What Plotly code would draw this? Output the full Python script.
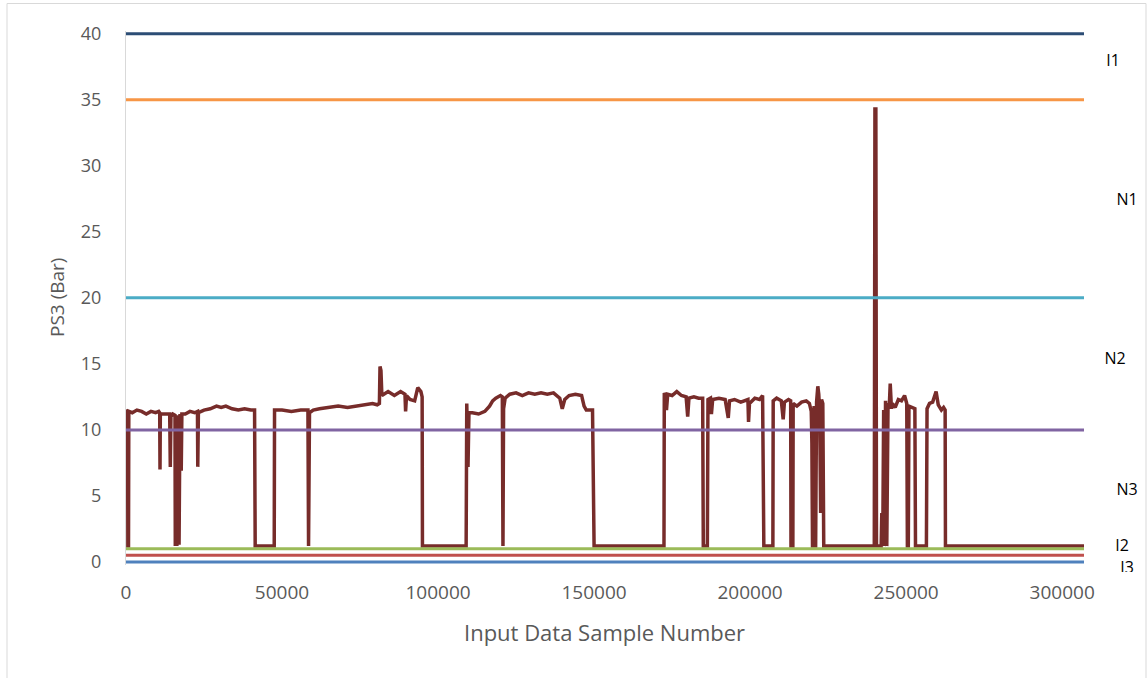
import plotly.graph_objects as go

# PS3 pressure readings, breakpoints of the recorded trace
sample_x = [
    0, 500, 600, 800, 900, 2000, 3500, 5000, 6500, 8000, 9500, 10500,
    10800, 10900, 11000, 12500, 14000, 14200, 14400, 15000,
    15700, 15800, 16000, 16300, 16600, 17000, 17300, 17700, 17900,
    19000, 20500, 22000, 22900, 23000, 23200,
    25000, 27000, 29000, 30500, 32000, 34000, 36000, 38000, 40000, 41200,
    41400, 47500, 47600, 50000, 53000, 56000, 58300, 58500, 58800,
    60000, 62000, 65000, 68000, 71000, 74000, 77000, 79000, 80500,
    81200, 81400, 81700, 82000, 84000, 86000, 88000, 89400, 89600, 89900,
    91000, 92500, 93500, 94500, 94900, 95000, 109000,
    109200, 109600, 109900, 111000, 113000, 115000, 116500, 117500, 118500,
    120000, 120600, 120700, 120800, 121000, 121500,
    123000, 125000, 127000, 129000, 131000, 133000, 135000, 137000, 139000,
    139800, 140600, 142000, 144000, 146000, 146800, 147500, 149500, 150000,
    172400, 172500, 172800, 173200, 173600, 175000, 176500, 178000, 179500,
    180000, 180400, 182000, 183500, 184800, 185000, 186300, 186500,
    187300, 187600, 188000, 190000, 192000, 193000, 193400, 195000, 197000,
    199300, 199500, 199800, 201500, 203000, 204000, 204400, 207300, 207400,
    208500, 210000, 210600, 211000, 212300, 213000, 213100, 213700, 213800,
    215000, 216500, 218000, 219000, 219600, 219800, 220000, 220300, 220500,
    220700, 221000, 221300, 221700, 222000, 222300, 222600, 222900, 223300,
    223600, 239800, 240000, 240300, 240500, 242000, 242200, 242500, 242800,
    243100, 243400, 243800, 244200, 244600, 244900, 245300, 245600, 246500,
    247500, 248500, 249500, 250200, 250400, 250700, 250900, 252000, 252800,
    253000, 256500, 256700, 257500, 258500, 259600, 260300, 261300, 262000,
    262500, 262600, 307000,
]
ps3_bar = [
    11.3, 11.5, 1.2, 1.2, 11.4, 11.3, 11.5, 11.4, 11.2, 11.4, 11.3, 11.4,
    11.3, 7.0, 11.2, 11.2, 11.2, 7.2, 11.0, 11.2,
    11.1, 1.2, 11.0, 1.2, 11.1, 1.3, 11.2, 6.9, 11.2,
    11.2, 11.4, 11.3, 11.4, 7.2, 11.3,
    11.5, 11.6, 11.8, 11.7, 11.8, 11.6, 11.5, 11.6, 11.5, 11.5,
    1.2, 1.2, 11.5, 11.5, 11.4, 11.5, 11.5, 1.2, 11.3,
    11.5, 11.6, 11.7, 11.8, 11.7, 11.8, 11.9, 12.0, 11.9,
    12.0, 14.8, 14.5, 12.6, 12.9, 12.6, 12.9, 12.7, 11.4, 12.6,
    12.3, 12.2, 13.2, 12.9, 12.5, 1.2, 1.2,
    12.0, 7.2, 11.3, 11.3, 11.2, 11.4, 11.8, 12.2, 12.4,
    12.6, 12.5, 1.2, 1.2, 11.6, 12.4,
    12.7, 12.8, 12.6, 12.8, 12.7, 12.8, 12.7, 12.8, 12.4,
    11.6, 12.3, 12.6, 12.7, 12.6, 11.8, 11.5, 11.5, 1.2,
    1.2, 12.8, 12.6, 11.5, 12.7, 12.6, 12.9, 12.6, 12.5,
    11.0, 12.4, 12.5, 12.4, 12.4, 1.2, 1.2, 12.3,
    12.4, 11.2, 12.3, 12.4, 12.3, 10.9, 12.2, 12.3, 12.1,
    12.3, 10.6, 12.0, 12.4, 12.3, 12.6, 1.2, 1.2, 12.2,
    12.4, 12.2, 10.8, 12.1, 12.3, 12.2, 1.2, 1.2, 12.0,
    11.8, 12.1, 12.2, 12.0, 11.4, 9.0, 1.2, 1.2, 11.8,
    1.2, 1.2, 12.1, 13.3, 12.7, 11.4, 3.7, 12.3, 12.0,
    1.2, 1.2, 34.3, 34.3, 1.2, 1.2, 3.7, 1.2, 11.5,
    1.2, 12.2, 1.2, 12.0, 11.8, 13.5, 11.6, 12.0, 11.7,
    12.3, 12.2, 12.6, 12.0, 1.2, 1.2, 11.8, 11.7, 11.6,
    1.2, 1.2, 11.6, 12.0, 12.1, 12.9, 11.9, 11.5, 11.7,
    11.5, 1.2, 1.2,
]

# Limit lines separating the operating zones
limit_levels = [40, 35, 20, 10, 1.0, 0.5, 0]
limit_colors = ["#2C4D75", "#F79646", "#4BACC6", "#8064A2",
                "#9BBB59", "#C0504D", "#4F81BD"]

zone_labels = ["I1", "N1", "N2", "N3", "I2", "I3"]

x_ticks = [0, 50000, 100000, 150000, 200000, 250000, 300000]
y_ticks = [0, 5, 10, 15, 20, 25, 30, 35, 40]

# ---- page geometry (pixels) ----
W, H = 1147, 678
ML, MR, MT, MB = 126, 5, 31, 78
PW, PH = W - ML - MR, H - MT - MB
plot_right = 1084          # right edge of the data area
plot_bottom = 564.6        # bottom edge of the data area
label_clip = 572           # zone labels are cut off below this line


def fx(px):
    return (px - ML) / PW


def fy(py):
    return (H - MB - py) / PH


x_max = sample_x[-1]

fig = go.Figure()

fig.add_trace(go.Scatter(
    x=sample_x, y=ps3_bar, mode="lines",
    line=dict(color="#772C2A", width=3.5),
    showlegend=False, hoverinfo="skip",
))

for level, color in zip(limit_levels, limit_colors):
    fig.add_trace(go.Scatter(
        x=[sample_x[0], x_max], y=[level, level], mode="lines",
        line=dict(color=color, width=3),
        showlegend=False, hoverinfo="skip",
    ))

# zone names sit in a narrow strip to the right of the data area
label_px_x = [1113, 1127, 1115, 1127, 1122, 1127]
label_px_y = [62, 201, 360, 491, 547, 569]
fig.add_trace(go.Scatter(
    x=label_px_x, y=label_px_y, text=zone_labels, mode="text",
    textposition="middle center", cliponaxis=True,
    textfont=dict(family="Open Sans", size=16, color="#000000"),
    xaxis="x2", yaxis="y2", showlegend=False, hoverinfo="skip",
))

axis_font = dict(family="Liberation Sans Narrow, Open Sans", size=19, color="#595959")

fig.update_layout(
    template="none",
    width=W, height=H,
    margin=dict(l=ML, r=MR, t=MT, b=MB, pad=0, autoexpand=False),
    paper_bgcolor="white", plot_bgcolor="white",
    xaxis=dict(
        domain=[0, fx(plot_right)], range=[0, x_max], automargin=False,
        tickvals=x_ticks, ticktext=[str(v) for v in x_ticks],
        tickfont=axis_font, showgrid=False, zeroline=False, showline=False,
        ticks="", ticklabelstandoff=14,
    ),
    yaxis=dict(
        domain=[fy(plot_bottom), 1], range=[-0.2, 40.2], automargin=False,
        tickvals=y_ticks, ticktext=[str(v) for v in y_ticks],
        tickfont=dict(family="Open Sans", size=18, color="#595959"),
        showgrid=False, zeroline=False, showline=True,
        linecolor="#D9D9D9", linewidth=1, ticks="", ticklabelstandoff=20,
    ),
    xaxis2=dict(domain=[fx(plot_right), 1], range=[plot_right, W - MR],
                visible=False, anchor="y2", automargin=False),
    yaxis2=dict(domain=[fy(label_clip), 1], range=[label_clip, MT],
                visible=False, anchor="x2", automargin=False),
    annotations=[
        dict(text="PS3 (Bar)", x=fx(57), y=fy(298), xref="paper", yref="paper",
             textangle=-90, showarrow=False, xanchor="center", yanchor="middle",
             font=dict(family="Open Sans", size=19, color="#595959")),
        dict(text="Input Data Sample Number", x=fx(604), y=fy(632),
             xref="paper", yref="paper", showarrow=False,
             xanchor="center", yanchor="middle",
             font=dict(family="Liberation Sans Narrow, Open Sans", size=22,
                       color="#595959")),
    ],
    shapes=[
        dict(type="line", xref="paper", yref="paper", x0=fx(7), x1=fx(7),
             y0=fy(3.5), y1=fy(H + 5), line=dict(color="#D9D9D9", width=1)),
        dict(type="line", xref="paper", yref="paper", x0=fx(7), x1=fx(1146),
             y0=fy(3.5), y1=fy(3.5), line=dict(color="#D9D9D9", width=1)),
        dict(type="line", xref="paper", yref="paper", x0=fx(1146), x1=fx(1146),
             y0=fy(3.5), y1=fy(H + 5), line=dict(color="#D9D9D9", width=1)),
    ],
)

fig.write_html("out.html")
